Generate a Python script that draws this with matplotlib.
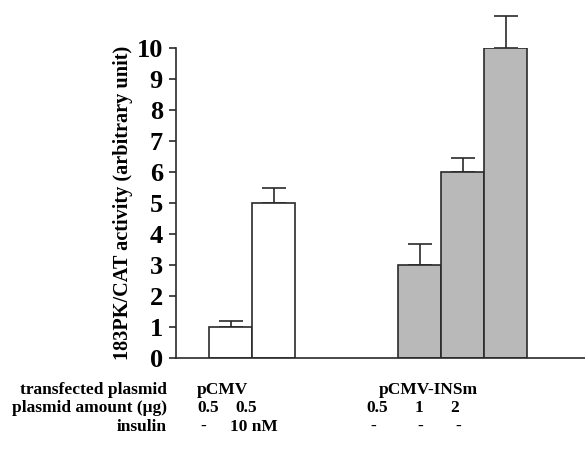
import matplotlib
matplotlib.use("Agg")
import matplotlib.pyplot as plt

# ---- data ----
groups = ["pCMV", "pCMV", "pCMV-INSm", "pCMV-INSm", "pCMV-INSm"]
values = [1.0, 5.0, 3.0, 6.0, 10.0]
errors = [0.2, 0.47, 0.67, 0.45, 1.03]
colors = ["white", "white", "#b9b9b9", "#b9b9b9", "#b9b9b9"]
amounts = ["0.5", "0.5", "0.5", "1", "2"]
insulin = ["-", "10 nM", "-", "-", "-"]
yticks = list(range(0, 11))
row_labels = ["transfected plasmid", "plasmid amount (\u03bcg)", "insulin"]
group_names = ["pCMV", "pCMV-INSm"]

positions = [0, 1, 4.4, 5.4, 6.4]

W, H = 585, 455
plt.rcParams['font.family'] = ['Liberation Serif', 'DejaVu Serif']
plt.rcParams['font.weight'] = 'bold'

fig = plt.figure(figsize=(W / 100, H / 100), dpi=100)
ax = fig.add_axes([176 / W, (H - 358) / H, 409 / W, 310 / H])

edge = "#2a2a2a"
ax.bar(positions, values, width=1.0, color=colors, edgecolor=edge, linewidth=1.2, zorder=2)
ax.errorbar(positions, values, yerr=[[0] * len(errors), errors], fmt='none',
            ecolor=edge, elinewidth=1.2, capsize=8.6, capthick=1.2, clip_on=False, zorder=1)

ax.set_xlim(-1.27, 8.24)
ax.set_ylim(0, 10)
ax.set_yticks(yticks)
ax.set_yticklabels([str(t) for t in yticks], fontsize=19, fontweight='bold')
ax.set_xticks([])
for s in ["top", "right"]:
    ax.spines[s].set_visible(False)
ax.spines["left"].set_linewidth(1.2)
ax.spines["bottom"].set_linewidth(1.2)
ax.spines["left"].set_color(edge)
ax.spines["bottom"].set_color(edge)
ax.tick_params(axis='y', direction='out', length=5, width=1.2, pad=4.5, colors=edge)
ax.tick_params(axis='y', labelcolor='black')
ax.set_ylabel("183PK/CAT activity (arbitrary unit)", fontsize=14.6, fontweight='bold', labelpad=2.5)

# ---- table text below ----
def fx(px):
    return px / W

def fy(py):
    return 1 - py / H

rows_y = [390, 408, 427]
fs = 12.5
for lab, y in zip(row_labels, rows_y):
    fig.text(fx(167), fy(y), lab, ha='right', va='center', fontsize=fs, fontweight='bold')

fig.text(fx(222), fy(rows_y[0]), group_names[0], ha='center', va='center', fontsize=fs, fontweight='bold')
fig.text(fx(428), fy(rows_y[0]), group_names[1], ha='center', va='center', fontsize=fs, fontweight='bold')

amount_x = [208, 246, 377, 419, 455]
ins_x = [203, 254, 373, 420, 458]
for a, x in zip(amounts, amount_x):
    fig.text(fx(x), fy(rows_y[1]), a, ha='center', va='center', fontsize=fs, fontweight='bold')
for s, x in zip(insulin, ins_x):
    fig.text(fx(x), fy(rows_y[2]), s, ha='center', va='center', fontsize=fs, fontweight='bold')

fig.savefig("out.png", dpi=100)
